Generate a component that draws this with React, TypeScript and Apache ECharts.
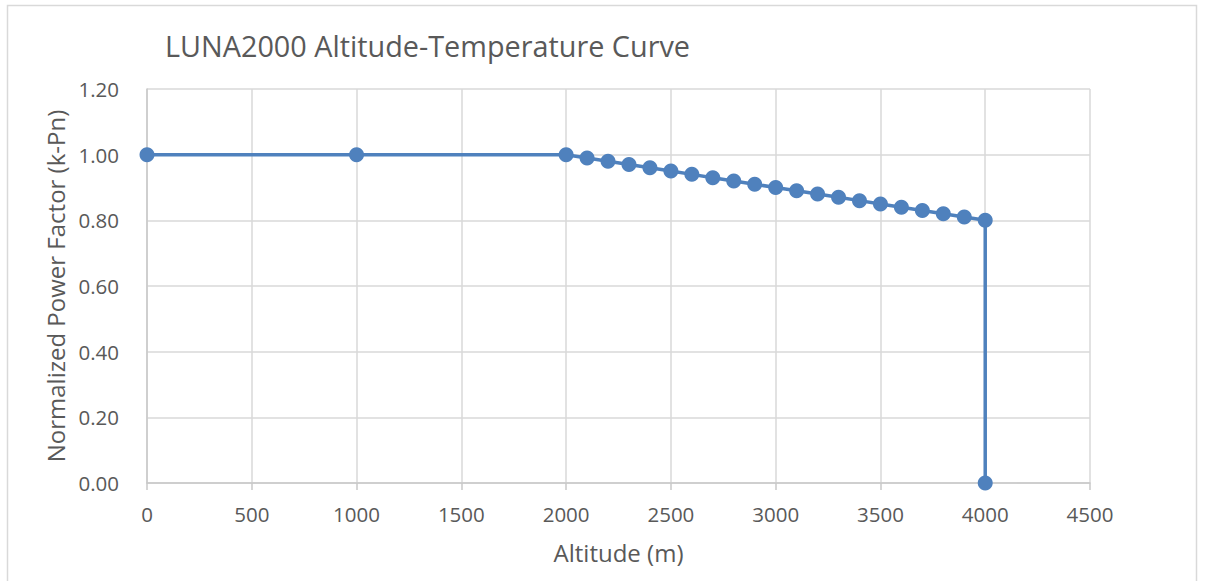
import React, { useEffect, useRef } from "react";
import * as echarts from "echarts";

const altitudes: number[] = [0, 1000, 2000, 2100, 2200, 2300, 2400, 2500, 2600, 2700, 2800, 2900, 3000, 3100, 3200, 3300, 3400, 3500, 3600, 3700, 3800, 3900, 4000, 4000];
const powerFactor: number[] = [1.0, 1.0, 1.0, 0.99, 0.98, 0.97, 0.96, 0.95, 0.94, 0.93, 0.92, 0.91, 0.9, 0.89, 0.88, 0.87, 0.86, 0.85, 0.84, 0.83, 0.82, 0.81, 0.8, 0.0];

const titleText = "LUNA2000 Altitude-Temperature Curve";
const xAxisTitle = "Altitude (m)";
const yAxisTitle = "Normalized Power Factor (k-Pn)";

export default function App() {
  const ref = useRef<HTMLDivElement>(null);
  useEffect(() => {
    if (!ref.current) return;
    const chart = echarts.init(ref.current, undefined, { renderer: "svg" });
    const font = "'Open Sans', 'Noto Sans', sans-serif";
    const txt = "#595959";
    chart.setOption({
      animation: false,
      backgroundColor: "#ffffff",
      textStyle: { fontFamily: font },
      title: {
        text: titleText,
        left: 160,
        top: 26,
        textStyle: { fontFamily: font, fontSize: 28.8, fontWeight: "normal", color: txt },
      },
      graphic: [
        {
          type: "rect",
          shape: { x: 7.5, y: 5.5, width: 1189, height: 620 },
          style: { fill: "none", stroke: "#d9d9d9", lineWidth: 1.5 },
          silent: true,
        },
      ],
      grid: { left: 147, right: 115, top: 89, bottom: 98, containLabel: false },
      xAxis: {
        type: "value",
        min: 0,
        max: 4500,
        interval: 500,
        name: xAxisTitle,
        nameLocation: "middle",
        nameGap: 57,
        nameTextStyle: { fontFamily: font, fontSize: 24, color: txt },
        axisLine: { show: true, lineStyle: { color: "#c8c8c8", width: 1.5 } },
        axisTick: { show: true, length: 7, lineStyle: { color: "#c8c8c8", width: 1.5 } },
        axisLabel: {
          margin: 20,
          fontSize: 20.5,
          color: txt,
          fontFamily: font,
          formatter: (v: number) => String(v),
        },
        splitLine: { show: true, lineStyle: { color: "#d9d9d9", width: 1.5 } },
      },
      yAxis: {
        type: "value",
        min: 0,
        max: 1.2,
        interval: 0.2,
        name: yAxisTitle,
        nameLocation: "middle",
        nameGap: 80,
        nameRotate: 90,
        nameTextStyle: { fontFamily: font, fontSize: 24, color: txt },
        axisLine: { show: true, lineStyle: { color: "#c8c8c8", width: 1.5 } },
        axisTick: { show: false },
        axisLabel: {
          margin: 28,
          fontSize: 20.5,
          color: txt,
          fontFamily: font,
          formatter: (v: number) => v.toFixed(2),
        },
        splitLine: { show: true, lineStyle: { color: "#d9d9d9", width: 1.5 } },
      },
      series: [
        {
          type: "line",
          data: altitudes.map((a, i) => [a, powerFactor[i]]),
          symbol: "circle",
          symbolSize: 15,
          showAllSymbol: true,
          lineStyle: { color: "#4f81bd", width: 3.5 },
          itemStyle: { color: "#4f81bd" },
          clip: false,
        },
      ],
    });
    return () => chart.dispose();
  }, []);
  return (
    <div
      ref={ref}
      style={{ position: "fixed", left: 0, top: 0, width: 1205, height: 581 }}
    />
  );
}
